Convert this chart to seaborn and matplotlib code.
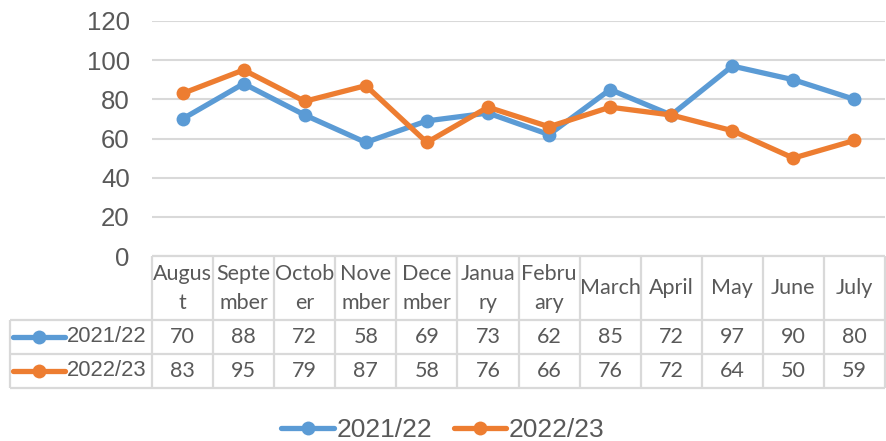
import matplotlib.pyplot as plt
import seaborn as sns
import pandas as pd
import numpy as np

# data
months = ['August', 'September', 'October', 'November', 'December', 'January',
          'February', 'March', 'April', 'May', 'June', 'July']
header_labels = ['Augus\nt', 'Septe\nmber', 'Octob\ner', 'Nove\nmber', 'Dece\nmber',
                 'Janua\nry', 'Febru\nary', 'March', 'April', 'May', 'June', 'July']
seasons = ['2021/22', '2022/23']
vals_2122 = [70, 88, 72, 58, 69, 73, 62, 85, 72, 97, 90, 80]
vals_2223 = [83, 95, 79, 87, 58, 76, 66, 76, 72, 64, 50, 59]
colors = ['#5B9BD5', '#ED7D31']
yticks = [0, 20, 40, 60, 80, 100, 120]

df = pd.DataFrame({
    'pos': list(range(len(months))) * 2,
    'month': months * 2,
    'value': vals_2122 + vals_2223,
    'season': [seasons[0]] * 12 + [seasons[1]] * 12,
})

sns.set_style('white')
plt.rcParams['font.family'] = ['Liberation Sans', 'DejaVu Sans']
text_col = '#595959'
grid_col = '#D9D9D9'

W, H = 886, 441
fig = plt.figure(figsize=(W / 100, H / 100), dpi=100)

# pixel layout
x_left, x_right = 152, 885
y_top, y_zero = 21, 256
tab_left, tab_rows = 10, [256, 320, 354, 388]

ax = fig.add_axes([x_left / W, 1 - y_zero / H, (x_right - x_left) / W, (y_zero - y_top) / H])
sns.lineplot(data=df, x='pos', y='value', hue='season', palette=colors,
             marker='o', markersize=10, markeredgewidth=0, linewidth=3.8,
             legend=False, ax=ax)
ax.set_xlim(-0.5, len(months) - 0.5)
ax.set_ylim(0, 120)
ax.set_yticks(yticks)
ax.set_xticks([])
ax.set_xlabel('')
ax.set_ylabel('')
for y in yticks:
    ax.axhline(y, color=grid_col, lw=1.5, zorder=0)
ax.tick_params(axis='y', length=0, pad=16, labelsize=18.5, labelcolor=text_col)
for s in ax.spines.values():
    s.set_visible(False)

# data table
unit = (x_right - x_left) / len(months)
tax = fig.add_axes([tab_left / W, 1 - tab_rows[-1] / H, (x_right - tab_left) / W,
                    (tab_rows[-1] - tab_rows[0]) / H])
tax.set_xlim(-0.5 - (x_left - tab_left) / unit, len(months) - 0.5)
tax.set_ylim(tab_rows[-1], tab_rows[0])
tax.axis('off')
tx0 = tax.get_xlim()[0]
lk = dict(color=grid_col, lw=1.6, clip_on=False, solid_capstyle='butt')
tax.plot([-0.5, len(months) - 0.5], [tab_rows[0]] * 2, **lk)
for r in tab_rows[1:]:
    tax.plot([tx0, len(months) - 0.5], [r, r], **lk)
for i in range(len(months) + 1):
    tax.plot([i - 0.5, i - 0.5], [tab_rows[0], tab_rows[-1]], **lk)
tax.plot([tx0, tx0], [tab_rows[1], tab_rows[-1]], **lk)

cell_font = dict(family=['Lato', 'DejaVu Sans'], fontsize=15.5, color=text_col,
                 ha='center', va='center')
for i, lab in enumerate(header_labels):
    tax.text(i, (tab_rows[0] + tab_rows[1]) / 2 + 0.5, lab, linespacing=1.6, **cell_font)
for r, (name, vals, c) in enumerate(zip(seasons, [vals_2122, vals_2223], colors)):
    yc = (tab_rows[r + 1] + tab_rows[r + 2]) / 2
    for i, v in enumerate(vals):
        tax.text(i, yc, str(v), **cell_font)
    kx0 = tx0 + 3 / unit
    kx1 = tx0 + 55 / unit
    tax.plot([kx0, kx1], [yc, yc], color=c, lw=3.8, solid_capstyle='round', clip_on=False)
    tax.plot([(kx0 + kx1) / 2], [yc], 'o', color=c, ms=10, mew=0, clip_on=False)
    tax.text(-0.5 - 5 / unit, yc, name, ha='right', va='center', fontsize=15.8, color=text_col)

# legend
from matplotlib.lines import Line2D
handles = [Line2D([], [], color=c, lw=3.8, marker='o', ms=10, mew=0, solid_capstyle='round')
           for c in colors]
leg = fig.legend(handles, seasons, loc='center', bbox_to_anchor=(0.5, (H - 430) / H),
                 ncol=2, frameon=False, fontsize=19, handlelength=2.0,
                 handletextpad=0.1, columnspacing=0.8, borderaxespad=0)
for t in leg.get_texts():
    t.set_color(text_col)

fig.savefig('out.png', dpi=100)
